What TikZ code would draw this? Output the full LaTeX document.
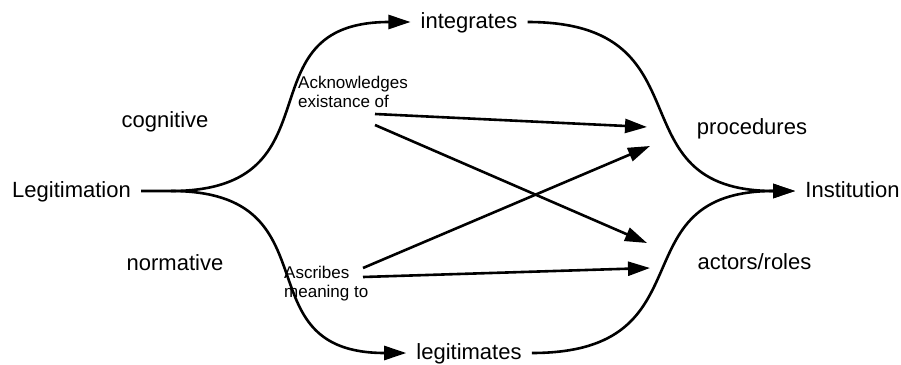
\documentclass[tikz,border=0pt]{standalone}
\usepackage{fontspec}
\setmainfont{Liberation Sans}
\usetikzlibrary{arrows.meta}
\tikzset{
    big/.style={font=\fontsize{22}{26}\selectfont, inner xsep=10pt, inner ysep=0pt, text height=13.6pt, text depth=0pt},
    small/.style={font=\fontsize{17}{19}\selectfont, align=left, inner sep=0pt, anchor=north west},
    flow/.style={line width=2.6pt, -{Triangle[length=22pt,width=14pt]}},
  }
\begin{document}
\begin{tikzpicture}[x=1pt,y=-1pt]
				  \useasboundingbox (0,0) rectangle (901,364);
				  %NOEUDS
				  \node[big] (legit) at (71.5,191) {Legitimation};
				  \node[big] (integ) at (469,22) {integrates};
				  \node[big] (legiti) at (469,353) {legitimates};
				  \node[big] (inst) at (852.5,191) {Institution};
				  \node[big] (cogn) at (165,121) {cognitive};
				  \node[big] (norm) at (175,264) {normative};
				  \node[big] (proc) at (752,128) {procedures};
				  \node[big] (actors) at (754.5,263) {actors/roles};
				  \node[small] (ack) at (298,75.5) {Acknowledges\\existance of};
				  \node[small] (ascr) at (284,265.5) {Ascribes\\meaning to};

				  %COURBES
				  \coordinate (split) at (171,191);
				  \draw[flow] (legit.east) -- (split) to[out=0,in=180,looseness=1.5] (integ.west);
				  \draw[flow] (split) to[out=0,in=180,looseness=1.5] (legiti.west);
				  \draw[flow] (integ.east) to[out=0,in=180,looseness=1.5] (inst.west);
				  \draw[flow] (legiti.east) to[out=0,in=180,looseness=1.5] (inst.west);

				  %FLECHES
				  \coordinate (ackA) at (375,114);
				  \coordinate (ackB) at (375,125);
				  \coordinate (ascrA) at (363,268);
				  \coordinate (ascrB) at (363,277);
				  \coordinate (procA) at (647,127);
				  \coordinate (procB) at (650,146);
				  \coordinate (actA) at (647,243);
				  \coordinate (actB) at (650,268);
				  \draw[flow] (ackA) -- (procA);
				  \draw[flow] (ackB) -- (actA);
				  \draw[flow] (ascrA) -- (procB);
				  \draw[flow] (ascrB) -- (actB);
				  \end{tikzpicture}
\end{document}
